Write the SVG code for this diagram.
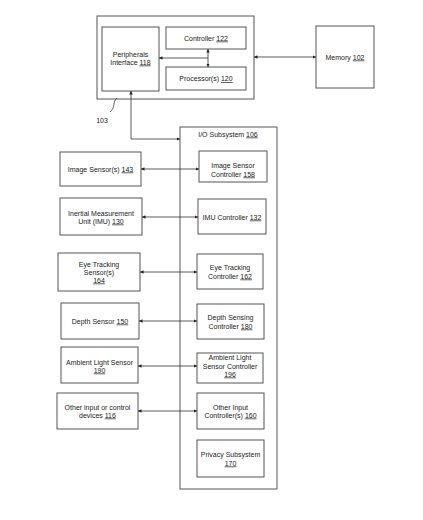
<svg xmlns="http://www.w3.org/2000/svg" width="423" height="520" viewBox="0 0 423 520">
<style>
.box{fill:#fff;stroke:#555;stroke-width:1}
.t{font-family:"Liberation Sans",Arial,sans-serif;font-size:7px;fill:#222;text-anchor:middle}
.u{text-decoration:underline}
.c{fill:none;stroke:#333;stroke-width:0.8}
</style>
<defs>
<marker id="ah" viewBox="0 0 6 6" refX="6" refY="3" markerWidth="3.5" markerHeight="3.5" markerUnits="userSpaceOnUse" orient="auto-start-reverse">
<path d="M0,0 L6,3 L0,6 Z" fill="#222"/>
</marker>
</defs>
<rect width="423" height="520" fill="#fff"/>

<g id="device">
<rect class="box" x="97" y="16" width="157" height="83"/>
</g>
<g id="peripherals">
<rect class="box" x="102" y="27" width="57" height="64"/>
<text class="t" x="130.5" y="56.5">Peripherals</text>
<text class="t" x="130.5" y="64.5">Interface <tspan class="u">118</tspan></text>
</g>
<g id="controller">
<rect class="box" x="166" y="27" width="80" height="22"/>
<text class="t" x="206" y="40.5">Controller <tspan class="u">122</tspan></text>
</g>
<g id="processor">
<rect class="box" x="166" y="67" width="80" height="23"/>
<text class="t" x="206" y="81">Processor(s) <tspan class="u">120</tspan></text>
</g>
<g id="memory">
<rect class="box" x="316" y="26" width="58" height="62"/>
<text class="t" x="345" y="59.5">Memory <tspan class="u">102</tspan></text>
</g>
<g id="label103">
<path d="M117,98 C112,102 116,107 110,112" fill="none" stroke="#333" stroke-width="0.8"/>
<text class="t" x="102" y="122.5">103</text>
</g>
<g id="io">
<rect class="box" x="180" y="127" width="97" height="362"/>
<text class="t" x="228" y="136.5">I/O Subsystem <tspan class="u">106</tspan></text>
</g>
<g id="imgsensor">
<rect class="box" x="60" y="152" width="81" height="34"/>
<text class="t" x="100.5" y="171.5">Image Sensor(s) <tspan class="u">143</tspan></text>
</g>
<g id="imgctrl">
<rect class="box" x="199" y="151" width="68" height="31"/>
<text class="t" x="233" y="167.5">Image Sensor</text>
<text class="t" x="233" y="176.5">Controller <tspan class="u">158</tspan></text>
</g>
<g id="imu">
<rect class="box" x="60" y="198" width="82" height="37"/>
<text class="t" x="101" y="215.5">Inertial Measurement</text>
<text class="t" x="101" y="223.5">Unit (IMU) <tspan class="u">130</tspan></text>
</g>
<g id="imuctrl">
<rect class="box" x="198" y="199" width="68" height="35"/>
<text class="t" x="232" y="219.5">IMU Controller <tspan class="u">132</tspan></text>
</g>
<g id="eyesensor">
<rect class="box" x="58" y="253" width="82" height="38"/>
<text class="t" x="99" y="266.5">Eye Tracking</text>
<text class="t" x="99" y="274.5">Sensor(s)</text>
<text class="t u" x="99" y="282.5">164</text>
</g>
<g id="eyectrl">
<rect class="box" x="197" y="254" width="66" height="35"/>
<text class="t" x="230" y="269.5">Eye Tracking</text>
<text class="t" x="230" y="278.5">Controller <tspan class="u">162</tspan></text>
</g>
<g id="depthsensor">
<rect class="box" x="61" y="303" width="78" height="36"/>
<text class="t" x="100" y="323.5">Depth Sensor <tspan class="u">150</tspan></text>
</g>
<g id="depthctrl">
<rect class="box" x="197" y="304" width="67" height="35"/>
<text class="t" x="230.5" y="319.5">Depth Sensing</text>
<text class="t" x="230.5" y="328.5">Controller <tspan class="u">180</tspan></text>
</g>
<g id="alsensor">
<rect class="box" x="61" y="347" width="77" height="36"/>
<text class="t" x="99.5" y="364.5">Ambient Light Sensor</text>
<text class="t u" x="99.5" y="372.5">190</text>
</g>
<g id="alctrl">
<rect class="box" x="197" y="353" width="66" height="30"/>
<text class="t" x="230" y="359.5">Ambient Light</text>
<text class="t" x="230" y="368.5">Sensor Controller</text>
<text class="t u" x="230" y="376.5">196</text>
</g>
<g id="otherdev">
<rect class="box" x="57" y="393" width="81" height="36"/>
<text class="t" x="97.5" y="409.5">Other input or control</text>
<text class="t" x="97.5" y="417.5">devices <tspan class="u">116</tspan></text>
</g>
<g id="otherctrl">
<rect class="box" x="197" y="393" width="67" height="36"/>
<text class="t" x="230.5" y="409.5">Other Input</text>
<text class="t" x="230.5" y="417.5">Controller(s) <tspan class="u">160</tspan></text>
</g>
<g id="privacy">
<rect class="box" x="197" y="440" width="67" height="37"/>
<text class="t" x="230.5" y="456.5">Privacy Subsystem</text>
<text class="t u" x="230.5" y="465.5">170</text>
</g>

<g id="connectors">
<path class="c" d="M254,57 H316" marker-start="url(#ah)" marker-end="url(#ah)"/>
<path class="c" d="M208,49 V67" marker-start="url(#ah)" marker-end="url(#ah)"/>
<path class="c" d="M208,58 H159" marker-end="url(#ah)"/>
<path class="c" d="M180,139 H131 V91" marker-start="url(#ah)" marker-end="url(#ah)"/>
<path class="c" d="M141,169 H199" marker-start="url(#ah)" marker-end="url(#ah)"/>
<path class="c" d="M142,217 H198" marker-start="url(#ah)" marker-end="url(#ah)"/>
<path class="c" d="M140,272 H197" marker-start="url(#ah)" marker-end="url(#ah)"/>
<path class="c" d="M139,321 H197" marker-start="url(#ah)" marker-end="url(#ah)"/>
<path class="c" d="M138,366 H197" marker-start="url(#ah)" marker-end="url(#ah)"/>
<path class="c" d="M138,411 H197" marker-start="url(#ah)" marker-end="url(#ah)"/>
</g>
</svg>
